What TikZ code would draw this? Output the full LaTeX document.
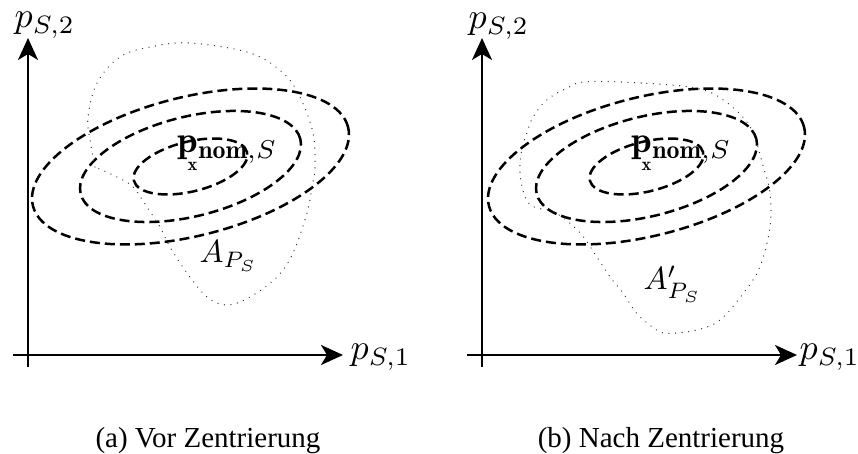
\documentclass[tikz,border=0pt]{standalone}
\usepackage{fontspec}
\newfontfamily\capfont{Liberation Serif}
\usetikzlibrary{arrows.meta}
\tikzset{
  axis/.style={line width=2.5pt, -{Stealth[length=22pt,width=20pt,inset=6pt]}},
  contour/.style={line width=2.5pt, dash pattern=on 10pt off 5pt},
  region/.style={line width=1.3pt, line cap=round, dash pattern=on 0.1pt off 6.5pt, black!80},
  axlabel/.style={inner sep=0pt, anchor=base west, scale=3.6},
  nomlabel/.style={inner sep=0pt, anchor=base west, scale=3.7},
  alabel/.style={inner sep=0pt, anchor=base west, scale=3.2},
  caption/.style={inner sep=0pt, anchor=base, font=\capfont\fontsize{29}{32}\selectfont}
}
\newcommand{\pnomlabel}{\rlap{\kern0.27em\raisebox{-0.46em}{$\scriptscriptstyle\mathbf{x}$}}\mathbf{p}_{\mathbf{nom},S}}
\begin{document}
\begin{tikzpicture}[x=1pt,y=1pt]
\useasboundingbox (0,0) rectangle (858,454);

% ---------- left panel ----------
\coordinate (Ly0) at (28,87);
\coordinate (Ly1) at (28,416);
\coordinate (Lx0) at (13,99);
\coordinate (Lx1) at (343,99);
\draw[axis] (Ly0) -- (Ly1);
\draw[axis] (Lx0) -- (Lx1);
\node[axlabel] (Lp2) at (14,426) {$p_{S,2}$};
\node[axlabel] (Lp1) at (350,94) {$p_{S,1}$};

\coordinate (Lc) at (190.5,287.5);
\draw[contour, rotate around={14:(Lc)}] (Lc) ellipse [x radius=162.4pt, y radius=69.4pt];
\draw[contour, rotate around={14:(Lc)}] (Lc) ellipse [x radius=113.2pt, y radius=49.8pt];
\draw[contour, rotate around={14:(Lc)}] (Lc) ellipse [x radius=58.4pt, y radius=24.9pt];

\draw[region] plot[smooth, tension=0.6] coordinates {
 (95,287) (90,314) (88,337) (97,371) (120,397) (150,407) (190,411)
 (250,401) (283,381) (300,357) (313,321) (315,287) (312,267) (307,241)
 (293,201) (277,177) (250,157) (227,149) (207,157) (187,181) (170,207)
 (160,227) (147,247) (133,267) (117,277) (95,287)};

\node[nomlabel] (Lnom) at (177,301) {$\pnomlabel$};
\node[alabel] (LA) at (199,191) {$A_{P_S}$};
\node[caption] (Lcap) at (208,6) {(a) Vor Zentrierung};

% ---------- right panel ----------
\coordinate (Ry0) at (482,87);
\coordinate (Ry1) at (482,416);
\coordinate (Rx0) at (467,99);
\coordinate (Rx1) at (797,99);
\draw[axis] (Ry0) -- (Ry1);
\draw[axis] (Rx0) -- (Rx1);
\node[axlabel] (Rp2) at (468,425) {$p_{S,2}$};
\node[axlabel] (Rp1) at (799,94) {$p_{S,1}$};

\coordinate (Rc) at (646.5,287.5);
\draw[contour, rotate around={14:(Rc)}] (Rc) ellipse [x radius=162.4pt, y radius=69.4pt];
\draw[contour, rotate around={14:(Rc)}] (Rc) ellipse [x radius=113.2pt, y radius=49.8pt];
\draw[contour, rotate around={14:(Rc)}] (Rc) ellipse [x radius=58.4pt, y radius=24.9pt];

\draw[region] plot[smooth cycle, tension=0.6] coordinates {
 (586.7,372.3) (646.7,370.7) (696.7,365.7) (723.3,354) (750,327.3)
 (763.3,287.3) (770,260.7) (770,227.3) (760,187.3) (743.3,160.7)
 (720,134) (696.7,124) (670,120.7) (656.7,124) (636.7,140.7)
 (623.3,160.7) (610,177.3) (596.7,197.3) (583.3,217.3) (570,230.7)
 (553.3,242.3) (533.3,247.3) (525,257.3) (520,280.7) (521.7,304)
 (526.7,320.7) (533.3,337.3) (546.7,354) (566.7,365.7)};

\node[nomlabel] (Rnom) at (631,301) {$\pnomlabel$};
\node[alabel] (RA) at (643,164) {$A^{\prime}_{P_S}$};
\node[caption] (Rcap) at (661,6) {(b) Nach Zentrierung};
\end{tikzpicture}
\end{document}
